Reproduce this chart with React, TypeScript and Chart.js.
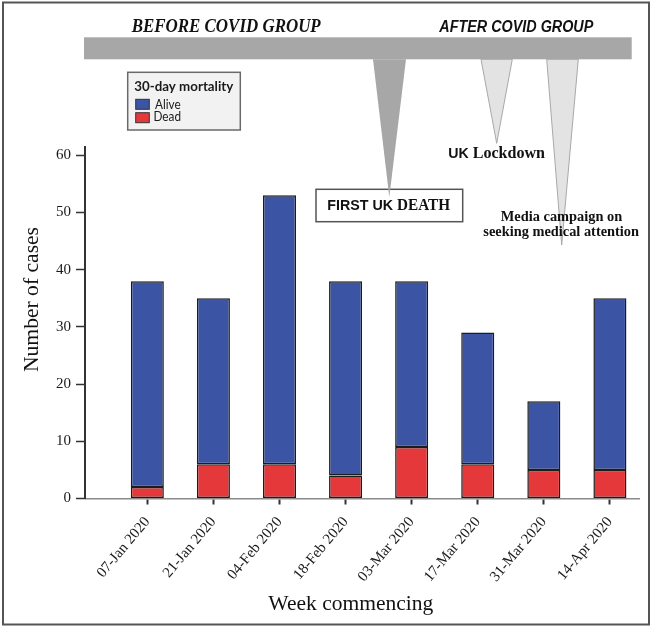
import { useEffect, useRef } from 'react';
import { Chart, registerables } from 'chart.js';

Chart.register(...registerables);

const weeks = ['07-Jan 2020', '21-Jan 2020', '04-Feb 2020', '18-Feb 2020', '03-Mar 2020', '17-Mar 2020', '31-Mar 2020', '14-Apr 2020'];
const alive = [36, 29, 47, 34, 29, 23, 12, 30];
const dead = [2, 6, 6, 4, 9, 6, 5, 5];
const yTicks = [0, 10, 20, 30, 40, 50, 60];
const seriesNames = ['Alive', 'Dead'];
const legendTitle = '30-day mortality';
const groupLabels = ['BEFORE COVID GROUP', 'AFTER COVID GROUP'];
const eventLabels = ['FIRST UK', 'DEATH', 'UK', 'Lockdown', 'Media campaign on', 'seeking medical attention'];
const yTitle = 'Number of cases';
const xTitle = 'Week commencing';

const BLUE = '#3b54a3';
const RED = '#e5383b';
const SERIF = '"Liberation Serif", "Times New Roman", serif';
const SANS = '"Liberation Sans", Arial, sans-serif';

type Part = { text: string; font: string };

function fitText(ctx: CanvasRenderingContext2D, parts: Part[], x0: number, x1: number, baseline: number, color: string) {
  ctx.save();
  let total = 0;
  const widths = parts.map((p) => {
    ctx.font = p.font;
    const w = ctx.measureText(p.text).width;
    total += w;
    return w;
  });
  ctx.translate(x0, baseline);
  ctx.scale((x1 - x0) / total, 1);
  ctx.fillStyle = color;
  ctx.textAlign = 'left';
  ctx.textBaseline = 'alphabetic';
  let x = 0;
  parts.forEach((p, i) => {
    ctx.font = p.font;
    ctx.fillText(p.text, x, 0);
    x += widths[i];
  });
  ctx.restore();
}

function triangle(ctx: CanvasRenderingContext2D, xl: number, xr: number, top: number, tipX: number, tipY: number, fill: string, stroke?: string) {
  ctx.beginPath();
  ctx.moveTo(xl, top);
  ctx.lineTo(xr, top);
  ctx.lineTo(tipX, tipY);
  ctx.closePath();
  ctx.fillStyle = fill;
  ctx.fill();
  if (stroke) {
    ctx.strokeStyle = stroke;
    ctx.lineWidth = 1;
    ctx.stroke();
  }
}

const annotationPlugin = {
  id: 'covidAnnotations',
  afterDraw(chart: Chart) {
    const ctx = chart.ctx;
    ctx.save();
    // frame
    ctx.strokeStyle = '#555';
    ctx.lineWidth = 2;
    ctx.strokeRect(3, 2.5, 646, 622);

    // header bar
    ctx.fillStyle = '#a7a7a7';
    ctx.fillRect(84, 37.3, 547.7, 22);
    fitText(ctx, [{ text: groupLabels[0], font: `italic bold 18px ${SERIF}` }], 131.7, 320.7, 31.7, '#111');
    fitText(ctx, [{ text: groupLabels[1], font: `italic bold 16px ${SANS}` }], 439.3, 593.3, 31.7, '#111');

    // legend
    ctx.fillStyle = '#f2f2f2';
    ctx.fillRect(127.7, 72.3, 112.6, 57.7);
    ctx.strokeStyle = '#6a6a6a';
    ctx.lineWidth = 1.5;
    ctx.strokeRect(127.7, 72.3, 112.6, 57.7);
    fitText(ctx, [{ text: legendTitle, font: `bold 14px Lato, ${SANS}` }], 134.3, 233.3, 90.7, '#1a1a1a');
    const ds = chart.data.datasets;
    const legendItems = [
      { name: seriesNames[0], color: ds[1].backgroundColor as string, y: 99.3, base: 108.6, x0: 155, x1: 180.7 },
      { name: seriesNames[1], color: ds[0].backgroundColor as string, y: 112.7, base: 121, x0: 153.5, x1: 181 },
    ];
    legendItems.forEach((it) => {
      ctx.fillStyle = it.color;
      ctx.fillRect(135.7, it.y, 13.6, 10);
      ctx.strokeStyle = '#333';
      ctx.lineWidth = 1;
      ctx.strokeRect(135.7, it.y, 13.6, 10);
      fitText(ctx, [{ text: it.name, font: `14px Lato, ${SANS}` }], it.x0, it.x1, it.base, '#1a1a1a');
    });

    // FIRST UK DEATH box
    ctx.fillStyle = '#fff';
    ctx.fillRect(316, 189.3, 146.7, 32.4);
    ctx.strokeStyle = '#555';
    ctx.lineWidth = 1.5;
    ctx.strokeRect(316, 189.3, 146.7, 32.4);
    fitText(
      ctx,
      [
        { text: eventLabels[0] + ' ', font: `bold 15px ${SANS}` },
        { text: eventLabels[1], font: `bold 16px ${SERIF}` },
      ],
      327.3,
      450,
      210,
      '#111'
    );

    // pointers
    triangle(ctx, 373, 406, 59.3, 389.3, 197, '#a7a7a7');
    triangle(ctx, 481, 512.3, 59.3, 496.7, 143.3, '#e3e3e3', '#a8a8a8');
    triangle(ctx, 546.7, 578.3, 59.3, 561.7, 245, '#e3e3e3', '#a8a8a8');

    fitText(
      ctx,
      [
        { text: eventLabels[2] + ' ', font: `bold 15px ${SANS}` },
        { text: eventLabels[3], font: `bold 17px ${SERIF}` },
      ],
      448.3,
      545,
      158.3,
      '#111'
    );
    fitText(ctx, [{ text: eventLabels[4], font: `bold 14px ${SERIF}` }], 500.7, 622.3, 220.7, '#111');
    fitText(ctx, [{ text: eventLabels[5], font: `bold 14px ${SERIF}` }], 483.3, 639, 236, '#111');

    // axis titles
    fitText(ctx, [{ text: xTitle, font: `22px ${SERIF}` }], 268.3, 433.3, 610, '#111');
    ctx.save();
    ctx.translate(38, 372);
    ctx.rotate(-Math.PI / 2);
    fitText(ctx, [{ text: yTitle, font: `22px ${SERIF}` }], 0, 145, 0, '#111');
    ctx.restore();

    ctx.restore();
  },
};

export default function App() {
  const ref = useRef<HTMLCanvasElement | null>(null);

  useEffect(() => {
    document.body.style.margin = '0';
    const canvas = ref.current;
    if (!canvas) return;
    const chart = new Chart(canvas, {
      type: 'bar',
      data: {
        datasets: [
          {
            label: seriesNames[1],
            data: dead.map((v, i) => ({ x: i, y: v })),
            backgroundColor: RED,
            borderColor: '#1c1c1c',
            borderWidth: 1.5,
            borderSkipped: false,
            barPercentage: 0.5,
            categoryPercentage: 1,
          },
          {
            label: seriesNames[0],
            data: alive.map((v, i) => ({ x: i, y: v })),
            backgroundColor: BLUE,
            borderColor: '#1c1c1c',
            borderWidth: 1.5,
            borderSkipped: false,
            barPercentage: 0.5,
            categoryPercentage: 1,
          },
        ],
      },
      options: {
        animation: false,
        responsive: true,
        maintainAspectRatio: false,
        layout: { padding: { left: 0, right: 13, top: 146.7, bottom: 0 } },
        plugins: {
          legend: { display: false },
          tooltip: { enabled: false },
        },
        scales: {
          x: {
            type: 'linear',
            stacked: true,
            offset: false,
            min: -0.943,
            max: 7.44,
            afterBuildTicks: (s: any) => {
              s.ticks = weeks.map((_, i) => ({ value: i }));
            },
            afterFit: (s: any) => {
              s.height = 129.5;
            },
            grid: {
              offset: false,
              drawOnChartArea: false,
              drawTicks: true,
              tickLength: 6,
              tickWidth: 2,
              tickColor: '#333',
            },
            border: { display: true, color: '#8a8a8a', width: 1.5 },
            ticks: {
              autoSkip: false,
              maxRotation: 50,
              minRotation: 50,
              padding: 9,
              color: '#1a1a1a',
              font: { family: SERIF, size: 15 },
              callback: (v: any) => weeks[Math.round(Number(v))] ?? '',
            },
          },
          y: {
            stacked: true,
            min: 0,
            max: 61.5,
            afterBuildTicks: (s: any) => {
              s.ticks = yTicks.map((v) => ({ value: v }));
            },
            afterFit: (s: any) => {
              s.width = 85;
            },
            grid: {
              drawOnChartArea: false,
              drawTicks: true,
              tickLength: 9,
              tickWidth: 1.5,
              tickColor: '#333',
            },
            border: { display: true, color: '#333', width: 2 },
            ticks: {
              padding: 5,
              color: '#1a1a1a',
              font: { family: SERIF, size: 15 },
            },
          },
        },
      },
      plugins: [annotationPlugin],
    });
    return () => chart.destroy();
  }, []);

  return (
    <div style={{ width: 652, height: 628, position: 'relative', background: '#fff' }}>
      <canvas ref={ref} />
    </div>
  );
}
